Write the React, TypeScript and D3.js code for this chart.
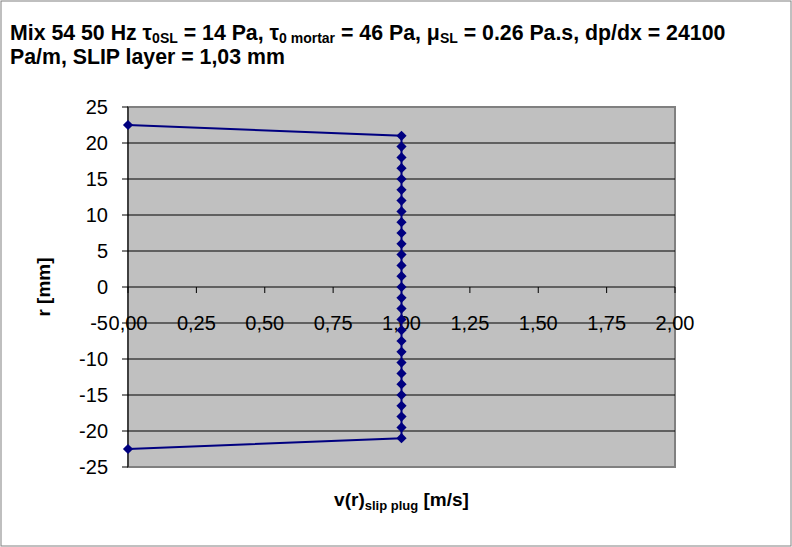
import React from 'react';
import * as d3 from 'd3';

const width = 792;
const height = 547;
const plot = { left: 128, right: 675, top: 107, bottom: 467 };

// velocity profile of the slip plug (v in m/s, r in mm)
const vValues = [
  0, 1, 1, 1, 1, 1, 1, 1, 1, 1, 1, 1, 1, 1, 1, 1,
  1, 1, 1, 1, 1, 1, 1, 1, 1, 1, 1, 1, 1, 1, 0,
];
const rValues = [
  22.5, 21, 19.5, 18, 16.5, 15, 13.5, 12, 10.5, 9, 7.5, 6, 4.5, 3, 1.5, 0,
  -1.5, -3, -4.5, -6, -7.5, -9, -10.5, -12, -13.5, -15, -16.5, -18, -19.5, -21, -22.5,
];
const xTicks = [0, 0.25, 0.5, 0.75, 1, 1.25, 1.5, 1.75, 2];
const yTicks = [25, 20, 15, 10, 5, 0, -5, -10, -15, -20, -25];

const font = '"Liberation Sans", Arial, sans-serif';

const App = () => {
  const x = d3.scaleLinear().domain([0, 2]).range([plot.left, plot.right]);
  const y = d3.scaleLinear().domain([-25, 25]).range([plot.bottom, plot.top]);
  const points = vValues.map((v, i) => [v, rValues[i]] as [number, number]);
  const line = d3.line<[number, number]>().x(d => x(d[0])).y(d => y(d[1]));
  const diamond = d3.symbol(d3.symbolSquare, 52)();
  const fmt = (v: number) => v.toFixed(2).replace('.', ',');

  return (
    <svg width={width} height={height} style={{ position: 'fixed', left: 0, top: 0 }} fontFamily={font}>
      <rect x={0} y={0} width={width} height={height} fill="#fff" />
      <rect x={1} y={1} width={width - 2} height={height - 2} fill="none" stroke="#808080" strokeWidth={1} />

      {/* title */}
      <text x={10} y={40} fontSize={21.3} fontWeight="bold">
        Mix 54 50 Hz τ<tspan fontSize={14} dy={3}>0SL</tspan>
        <tspan dy={-3}> = 14 Pa, τ</tspan><tspan fontSize={14} dy={3}>0 mortar</tspan>
        <tspan dy={-3}> = 46 Pa, μ</tspan><tspan fontSize={14} dy={3}>SL</tspan>
        <tspan dy={-3}> = 0.26 Pa.s, dp/dx = 24100</tspan>
      </text>
      <text x={10} y={64} fontSize={21.3} fontWeight="bold">Pa/m, SLIP layer = 1,03 mm</text>

      {/* plot area */}
      <rect x={plot.left} y={plot.top} width={plot.right - plot.left} height={plot.bottom - plot.top}
        fill="#C0C0C0" stroke="#808080" strokeWidth={2} />
      {yTicks.filter(t => t !== 25 && t !== -25).map(t => (
        <line key={t} x1={plot.left} x2={plot.right} y1={y(t)} y2={y(t)} stroke="#000" strokeWidth={1} />
      ))}

      {/* y axis */}
      <line x1={plot.left} x2={plot.left} y1={plot.top} y2={plot.bottom} stroke="#000" />
      {yTicks.map(t => (
        <g key={t}>
          <line x1={plot.left - 6} x2={plot.left} y1={y(t)} y2={y(t)} stroke="#000" />
          <text x={plot.left - 20} y={y(t)} dy="0.35em" textAnchor="end" fontSize={20}>{t}</text>
        </g>
      ))}

      {/* x axis at r = 0 */}
      {xTicks.map(t => (
        <g key={t}>
          <line x1={x(t)} x2={x(t)} y1={y(0)} y2={y(0) + 6} stroke="#000" />
          <text x={x(t)} y={y(-5)} dy="0.35em" textAnchor="middle" fontSize={20}>{fmt(t)}</text>
        </g>
      ))}

      {/* series */}
      <path d={line(points) ?? ''} fill="none" stroke="#000080" strokeWidth={2} />
      {points.map((p, i) => (
        <path key={i} d={diamond ?? ''} transform={`translate(${x(p[0])},${y(p[1])}) rotate(45)`} fill="#000080" />
      ))}

      {/* axis titles */}
      <text x={(plot.left + plot.right) / 2} y={506} textAnchor="middle" fontSize={19} fontWeight="bold">
        v(r)<tspan fontSize={13} dy={4}>slip plug</tspan><tspan dy={-4}> [m/s]</tspan>
      </text>
      <text transform={`translate(50,${y(0)}) rotate(-90)`} textAnchor="middle" fontSize={19} fontWeight="bold">
        r [mm]
      </text>
    </svg>
  );
};

export default App;
